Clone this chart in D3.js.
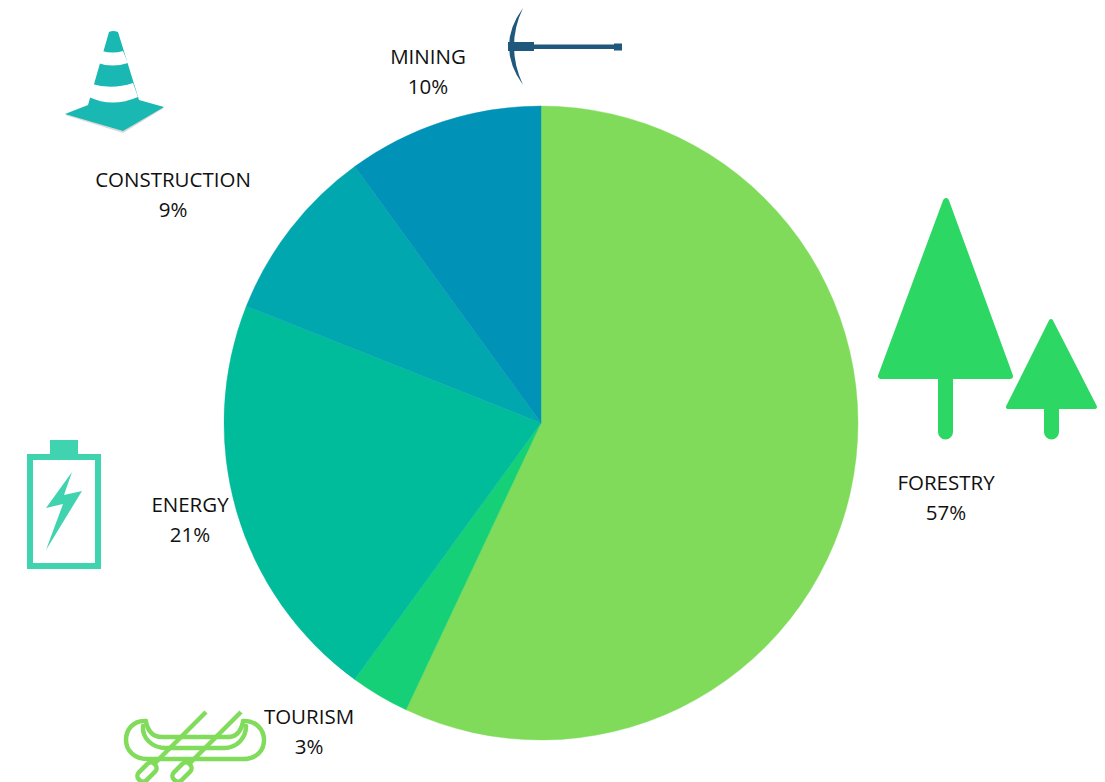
<!DOCTYPE html>
<html>
<head>
<meta charset="utf-8">
<script src="https://cdn.jsdelivr.net/npm/d3@7"></script>
<style>
  html, body { margin: 0; padding: 0; background: #fff; }
  text { font-family: "Open Sans", sans-serif; font-size: 20.5px; fill: #111; }
</style>
</head>
<body>
<div id="chart"></div>
<script>
const sectors = ["FORESTRY", "TOURISM", "ENERGY", "CONSTRUCTION", "MINING"]
const shares = [57, 3, 21, 9, 10]
const sliceColors = ["#7fdb59", "#15d076", "#00bc9a", "#00a7af", "#0092b7"]

// label centres, same order as sectors
const labelX = [946, 309, 190, 173, 428]
const labelY = [483, 717, 505, 180, 57]

const width = 1105
const height = 782
const cx = 541
const cy = 423
const radius = 317

const svg = d3.select("#chart")
  .append("svg")
  .attr("width", width)
  .attr("height", height)
  .style("display", "block")

// Pie
const pie = d3.pie().sort(null).value(d => d)
const arc = d3.arc().innerRadius(0).outerRadius(radius)

svg.append("g")
  .attr("transform", `translate(${cx},${cy})`)
  .selectAll("path")
  .data(pie(shares))
  .join("path")
  .attr("d", arc)
  .attr("fill", (_, i) => sliceColors[i])
  .attr("stroke", (_, i) => sliceColors[i])
  .attr("stroke-width", 0.4)

// Labels
sectors.forEach((name, i) => {
  const t = svg.append("text")
    .attr("text-anchor", "middle")
    .attr("x", labelX[i])
    .attr("y", labelY[i])
  t.append("tspan").attr("x", labelX[i]).attr("dy", 7).text(name)
  t.append("tspan").attr("x", labelX[i]).attr("dy", 30).text(shares[i] + "%")
})

// Icons (decoration, hand traced)
const icons = svg.append("g")

// cone
const cone = icons.append("g")
cone.append("path")
  .attr("d", "M65,114 L88,105 L164,107 L123,132 Z")
  .attr("fill", "#d9d9d9")
  .attr("transform", "translate(0,1)")
cone.append("path")
  .attr("d", "M65,114 L88,105 L109,32 Q113,30 118,32 L139,100 L164,107 L123,131 Z")
  .attr("fill", "#1ab8b2")
cone.append("path")
  .attr("d", "M102,51 Q113,54 123,51 L128,63 Q112,68 98,63 Z")
  .attr("fill", "#fff")
cone.append("path")
  .attr("d", "M92,84 Q112,90 133,83 L138,97 Q112,108 89,97 Z")
  .attr("fill", "#fff")

// pickaxe
const pick = icons.append("g").attr("fill", "#1f587c")
pick.append("path").attr("d", "M508,42 H534 V44.5 H614 V43.5 H622 V50.5 H614 V49 H534 V51 H508 Z")
pick.append("path").attr("d", "M523,8 Q495,46 523,85 Q505,46 523,8 Z")

// trees
const tree = icons.append("g")
  .attr("fill", "#2cd763")
  .attr("stroke", "#2cd763")
  .attr("stroke-linejoin", "round")
  .attr("stroke-width", 6)
tree.append("path").attr("d", "M946,201 L881,376 H1010 Z")
tree.append("path").attr("d", "M1051,321 L1008,407 H1095 Z").attr("stroke-width", 4)
tree.append("path").attr("d", "M938,378 H953 V432 A7.5,7.5 0 0 1 938,432 Z").attr("stroke", "none")
tree.append("path").attr("d", "M1044,408 H1059 V432 A7.5,7.5 0 0 1 1044,432 Z").attr("stroke", "none")

// battery
const battery = icons.append("g")
battery.append("rect")
  .attr("x", 30).attr("y", 457).attr("width", 68).attr("height", 109)
  .attr("fill", "none").attr("stroke", "#40d3b0").attr("stroke-width", 6)
battery.append("rect")
  .attr("x", 50).attr("y", 440).attr("width", 28).attr("height", 15)
  .attr("fill", "#40d3b0")
battery.append("path")
  .attr("d", "M72,472 L46,508 L63,504 L46,550 L82,491 L64,495 Z")
  .attr("fill", "#40d3b0")

// canoe
const canoe = icons.append("g")
  .attr("fill", "none")
  .attr("stroke", "#80dc5a")
  .attr("stroke-width", 4.5)
  .attr("stroke-linecap", "round")
canoe.append("path").attr("d", "M146,721 C133,720 126,730 126,740 C126,751 135,759 147,759 H243 C256,759 264,751 264,740 C264,730 256,720 243,721")
canoe.append("path").attr("d", "M143,726 C142,738 152,748 166,748 H224 C237,748 246,738 246,726")
canoe.append("path").attr("d", "M146,722 C148,731 153,737 162,737 H228 C237,737 241,731 243,722")
canoe.append("path").attr("d", "M206,712 L154,764 M241,712 L189,764").attr("stroke-linecap", "butt")
canoe.append("rect")
  .attr("x", -11).attr("y", -5.5).attr("width", 22).attr("height", 11).attr("rx", 5)
  .attr("transform", "translate(147,772) rotate(-45)")
canoe.append("rect")
  .attr("x", -11).attr("y", -5.5).attr("width", 22).attr("height", 11).attr("rx", 5)
  .attr("transform", "translate(182,772) rotate(-45)")
</script>
</body>
</html>
